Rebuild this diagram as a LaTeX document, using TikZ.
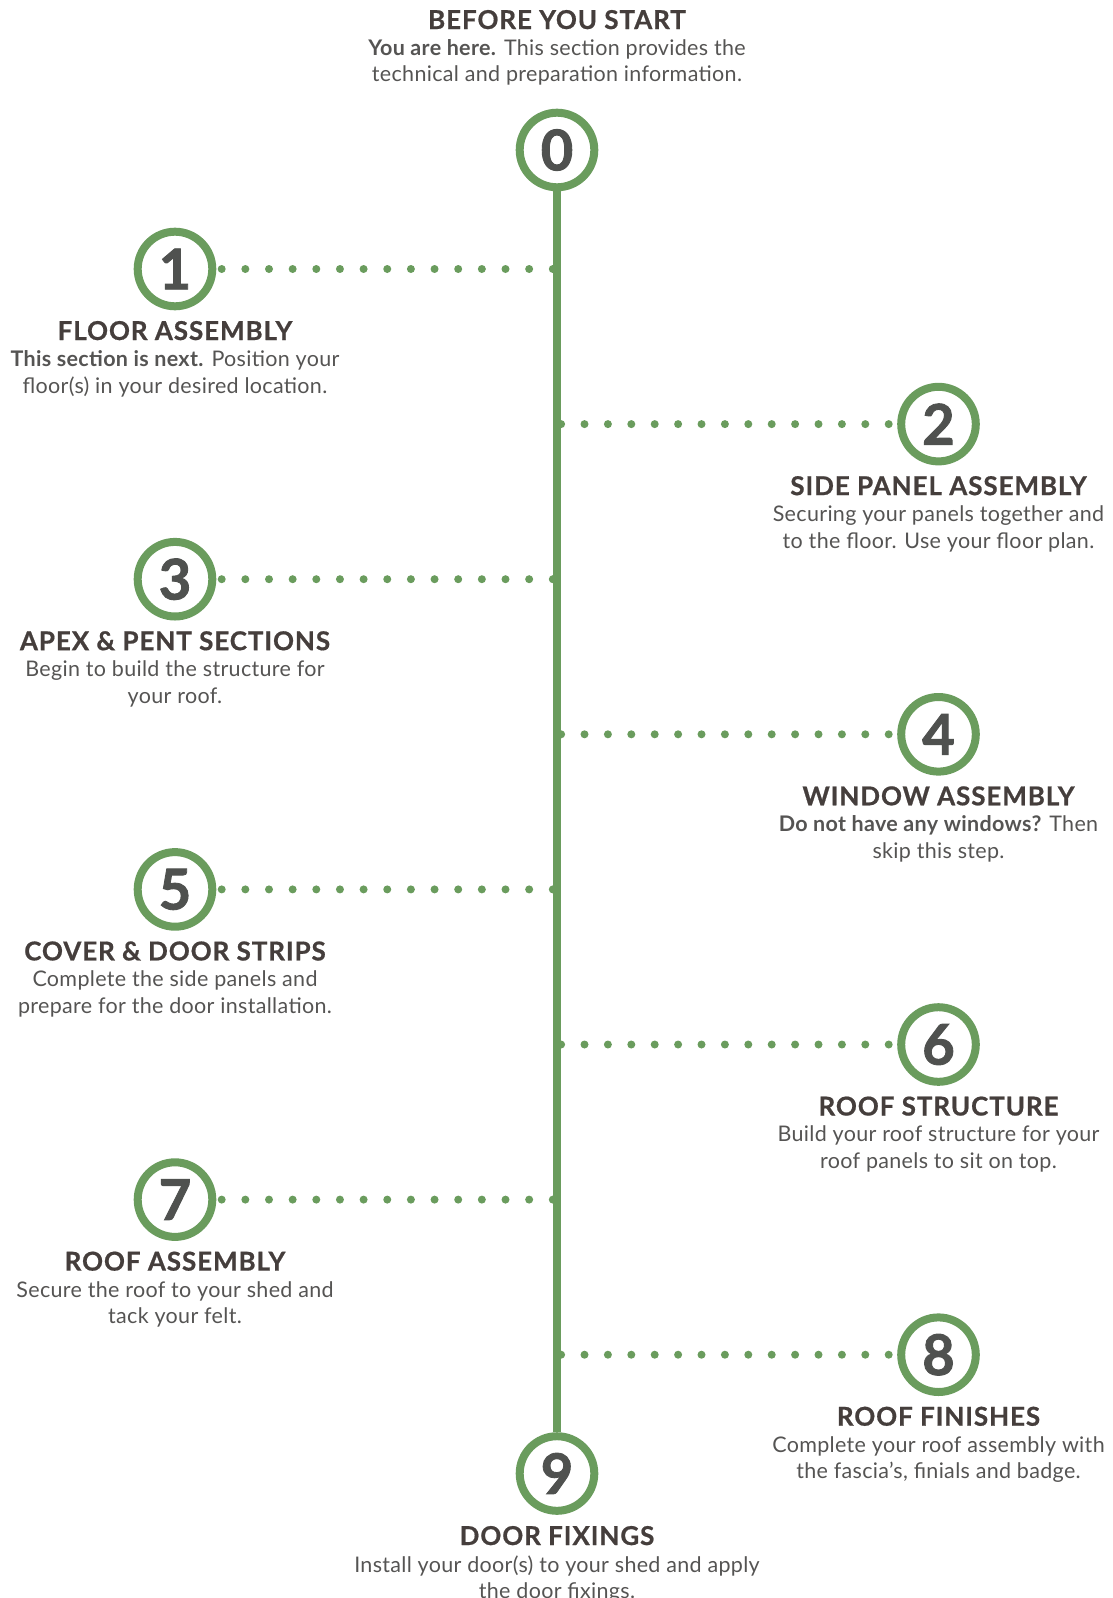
\documentclass[tikz,border=0pt]{standalone}
\usepackage{fontspec}
\setmainfont{Lato}
\newfontfamily\titlefont{Lato}[LetterSpace=3.5, BoldFeatures={FakeBold=0.7}]
\newfontfamily\descfont{Lato}[LetterSpace=1.5]
\newfontfamily\digitfont{Lato}[BoldFeatures={FakeBold=1.6}]
\usetikzlibrary{positioning}

\definecolor{green1}{HTML}{6A9C5D}
\definecolor{darktext}{HTML}{453E3C}
\definecolor{greytext}{HTML}{555453}
\definecolor{digit}{HTML}{4F514F}

\tikzset{
	stepcircle/.style={circle, draw=green1, line width=8pt, fill=white, minimum size=74.6pt, inner sep=0pt, text=digit, font=\digitfont\fontsize{56}{56}\selectfont\bfseries},
	steptitle/.style={inner sep=0pt, text=darktext, font=\titlefont\fontsize{26}{26}\selectfont\bfseries},
	stepdesc/.style={inner sep=0pt, align=center, text=greytext, font=\descfont\fontsize{21.5}{26.5}\selectfont},
	spine/.style={green1, line width=7.5pt},
	dotrow/.style={green1, line width=8pt, line cap=round, dash pattern=on 0pt off #1},
	dotrow/.default=23.65pt
}

\begin{document}
\begin{tikzpicture}[x=1pt, y=-1pt]
	\useasboundingbox (0,0) rectangle (1113,1598);
	
	%%% Cerchi
	\node[stepcircle] (s0) at (557,150) {0};
	\node[stepcircle] (s1) at (175,269) {1};
	\node[stepcircle] (s2) at (938.5,424.1) {2};
	\node[stepcircle] (s3) at (175,579.2) {3};
	\node[stepcircle] (s4) at (938.5,734.3) {4};
	\node[stepcircle] (s5) at (175,889.4) {5};
	\node[stepcircle] (s6) at (938.5,1044.5) {6};
	\node[stepcircle] (s7) at (175,1199.6) {7};
	\node[stepcircle] (s8) at (938.5,1354.7) {8};
	\node[stepcircle] (s9) at (557,1473.5) {9};
	
	%%% Linea centrale e puntini
	\draw[spine] (s0.south) -- (s9.north);
	\foreach \n in {1,3,5,7}
		\draw[dotrow] ([xshift=5.4pt]s\n.east) -- (s\n -| s0);
	\foreach \n in {2,4,6,8}
		\draw[dotrow=23.4pt] ([xshift=-8.5pt]s\n.west) -- (s\n -| s0);
	
	%%% Testi
	\node[steptitle, anchor=base] (t0) at (557,29) {BEFORE YOU START};
	\node[stepdesc, below=9.5pt of t0] (d0) {\textbf{You are here.} This section provides the\\technical and preparation information.};
	
	\node[steptitle, anchor=base] (t1) at (175,340) {FLOOR ASSEMBLY};
	\node[stepdesc, below=10pt of t1] (d1) {\textbf{This section is next.} Position your\\floor(s) in your desired location.};
	
	\node[steptitle, anchor=base] (t2) at (938.5,495.1) {SIDE PANEL ASSEMBLY};
	\node[stepdesc, below=10pt of t2] (d2) {Securing your panels together and\\to the floor. Use your floor plan.};
	
	\node[steptitle, anchor=base] (t3) at (175,650.2) {APEX \& PENT SECTIONS};
	\node[stepdesc, below=10pt of t3] (d3) {Begin to build the structure for\\your roof.};
	
	\node[steptitle, anchor=base] (t4) at (938.5,805.3) {WINDOW ASSEMBLY};
	\node[stepdesc, below=10pt of t4] (d4) {\textbf{Do not have any windows?} Then\\skip this step.};
	
	\node[steptitle, anchor=base] (t5) at (175,960.4) {COVER \& DOOR STRIPS};
	\node[stepdesc, below=10pt of t5] (d5) {Complete the side panels and\\prepare for the door installation.};
	
	\node[steptitle, anchor=base] (t6) at (938.5,1115.5) {ROOF STRUCTURE};
	\node[stepdesc, below=10pt of t6] (d6) {Build your roof structure for your\\roof panels to sit on top.};
	
	\node[steptitle, anchor=base] (t7) at (175,1270.6) {ROOF ASSEMBLY};
	\node[stepdesc, below=10pt of t7] (d7) {Secure the roof to your shed and\\tack your felt.};
	
	\node[steptitle, anchor=base] (t8) at (938.5,1425.7) {ROOF FINISHES};
	\node[stepdesc, below=10pt of t8] (d8) {Complete your roof assembly with\\the fascia’s, finials and badge.};
	
	\node[steptitle, anchor=base] (t9) at (557,1545) {DOOR FIXINGS};
	\node[stepdesc, below=10pt of t9] (d9) {Install your door(s) to your shed and apply\\the door fixings.};
\end{tikzpicture}
\end{document}
